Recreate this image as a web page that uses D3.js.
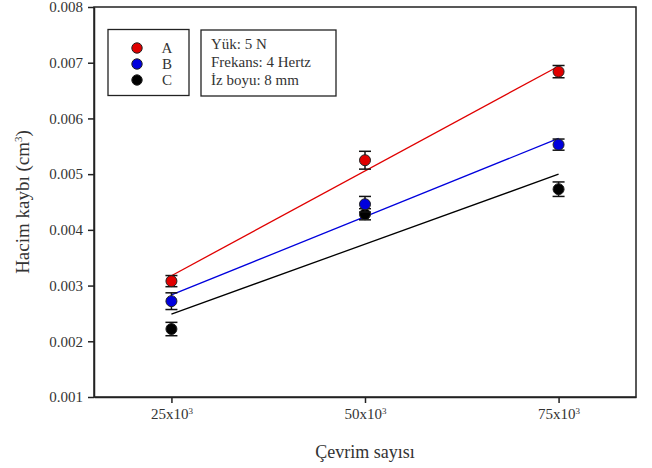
<!DOCTYPE html>
<html lang="tr">
<head>
<meta charset="UTF-8">
<title>hacim-kaybi</title>
<script src="https://cdn.jsdelivr.net/npm/d3@7"></script>
<style>
    body { margin: 0; background: #fff; }
    svg, svg text { font-family: "Liberation Serif", "Times New Roman", Tinos, "DejaVu Serif", serif; }
    svg { display: block; }
</style>
</head>
<body>
<svg id="chart" width="652" height="468"></svg>
<script>
// veriler
var cycles = [25, 50, 75];                 // x10^3
var seriesNames = ["A", "B", "C"];
var seriesColors = ["#e00000", "#0000dd", "#000000"];
var valuesA = [0.00308, 0.00525, 0.00684];
var valuesB = [0.00272, 0.00446, 0.00553];
var valuesC = [0.00222, 0.00428, 0.00473];
var errorsA = [0.00010, 0.00016, 0.00011];
var errorsB = [0.00015, 0.00014, 0.00010];
var errorsC = [0.00012, 0.00010, 0.00013];
var yTicks = [0.001, 0.002, 0.003, 0.004, 0.005, 0.006, 0.007, 0.008];
var infoLines = ["Yük: 5 N", "Frekans: 4 Hertz", "İz boyu: 8 mm"];

var series = [
    { name: seriesNames[0], color: seriesColors[0], values: valuesA, errors: errorsA },
    { name: seriesNames[1], color: seriesColors[1], values: valuesB, errors: errorsB },
    { name: seriesNames[2], color: seriesColors[2], values: valuesC, errors: errorsC }
];

var margin = { top: 7, right: 16, bottom: 71, left: 94 };
var width = 652 - margin.left - margin.right;
var height = 468 - margin.top - margin.bottom;

var x = d3.scaleLinear().domain([15, 85]).range([0, width]);
var y = d3.scaleLinear().domain([0.001, 0.008]).range([height, 0]);

var svg = d3.select("#chart");
var g = svg.append("g").attr("transform", "translate(" + margin.left + "," + margin.top + ")");

// cerceve
g.append("rect")
    .attr("width", width).attr("height", height)
    .attr("fill", "none").attr("stroke", "#222").attr("stroke-width", 1.5);

// y ekseni
var yAxis = g.append("g")
    .call(d3.axisLeft(y).tickValues(yTicks).tickFormat(d3.format(".3f")).tickSize(6).tickSizeOuter(0))
    .attr("font-family", null).attr("font-size", null);
yAxis.select(".domain").attr("stroke", "#222").attr("stroke-width", 1.5);
yAxis.selectAll(".tick line").attr("stroke", "#222").attr("stroke-width", 1.5);
yAxis.selectAll(".tick text")
    .attr("x", -11).attr("font-size", 15).attr("fill", "#333");

// x ekseni
var xAxis = g.append("g")
    .attr("transform", "translate(0," + height + ")")
    .call(d3.axisBottom(x).tickValues(cycles).tickFormat("").tickSize(6).tickSizeOuter(0))
    .attr("font-family", null).attr("font-size", null);
xAxis.select(".domain").attr("stroke", "#222").attr("stroke-width", 1.5);
xAxis.selectAll(".tick line").attr("stroke", "#222").attr("stroke-width", 1.5);
var xt = xAxis.selectAll(".tick").append("text")
    .attr("y", 22)
    .attr("text-anchor", "middle").attr("font-size", 15).attr("fill", "#333");
xt.append("tspan").text(function (d) { return d + "x10"; });
xt.append("tspan").attr("font-size", 9).attr("dy", -5).text("3");

// regresyon cizgileri (en kucuk kareler)
function fit(xs, ys) {
    var mx = d3.mean(xs), my = d3.mean(ys);
    var num = d3.sum(xs, function (v, i) { return (v - mx) * (ys[i] - my); });
    var den = d3.sum(xs, function (v) { return (v - mx) * (v - mx); });
    var b = num / den;
    return function (v) { return my + b * (v - mx); };
}

series.forEach(function (s) {
    var f = fit(cycles, s.values);
    var x0 = d3.min(cycles), x1 = d3.max(cycles);
    g.append("line")
        .attr("x1", x(x0)).attr("y1", y(f(x0)))
        .attr("x2", x(x1)).attr("y2", y(f(x1)))
        .attr("stroke", s.color).attr("stroke-width", 1.3);
});

// hata cubuklari ve noktalar (C en altta)
series.slice().reverse().forEach(function (s) {
    var pts = cycles.map(function (c, i) { return { c: c, v: s.values[i], e: s.errors[i] }; });
    var eg = g.append("g").selectAll("g").data(pts).enter().append("g");
    eg.append("line")
        .attr("x1", function (d) { return x(d.c); }).attr("x2", function (d) { return x(d.c); })
        .attr("y1", function (d) { return y(d.v - d.e); }).attr("y2", function (d) { return y(d.v + d.e); })
        .attr("stroke", "#111").attr("stroke-width", 1.5);
    [-1, 1].forEach(function (sg) {
        eg.append("line")
            .attr("x1", function (d) { return x(d.c) - 6; }).attr("x2", function (d) { return x(d.c) + 6; })
            .attr("y1", function (d) { return y(d.v + sg * d.e); }).attr("y2", function (d) { return y(d.v + sg * d.e); })
            .attr("stroke", "#111").attr("stroke-width", 1.5);
    });
    eg.append("circle")
        .attr("cx", function (d) { return x(d.c); }).attr("cy", function (d) { return y(d.v); })
        .attr("r", 5.5).attr("fill", s.color).attr("stroke", "#222").attr("stroke-width", 1);
});

// lejant
svg.append("rect").attr("x", 108).attr("y", 29.5).attr("width", 81).attr("height", 66)
    .attr("fill", "#fff").attr("stroke", "#222").attr("stroke-width", 1.3);
var leg = svg.append("g").selectAll("g").data(series).enter().append("g")
    .attr("transform", function (d, i) { return "translate(137," + (48 + i * 16) + ")"; });
leg.append("circle").attr("r", 5.2).attr("fill", function (d) { return d.color; })
    .attr("stroke", "#222").attr("stroke-width", 1);
leg.append("text").attr("x", 30).attr("y", 5).attr("text-anchor", "middle")
    .attr("font-size", 15).attr("fill", "#333").text(function (d) { return d.name; });

// bilgi kutusu
svg.append("rect").attr("x", 201).attr("y", 30).attr("width", 135).attr("height", 66)
    .attr("fill", "#fff").attr("stroke", "#222").attr("stroke-width", 1.3);
svg.append("g").selectAll("text").data(infoLines).enter().append("text")
    .attr("x", 211).attr("y", function (d, i) { return 49 + i * 18; })
    .attr("font-size", 15).attr("fill", "#333").text(function (d) { return d; });

// eksen basliklari
var yt = svg.append("text")
    .attr("transform", "translate(29," + (margin.top + height / 2) + ") rotate(-90)")
    .attr("text-anchor", "middle").attr("font-size", 19).attr("fill", "#333");
yt.append("tspan").text("Hacim kaybı (cm");
yt.append("tspan").attr("font-size", 11).attr("dy", -7).text("3");
yt.append("tspan").attr("dy", 7).text(")");

svg.append("text")
    .attr("x", margin.left + width / 2).attr("y", 458)
    .attr("text-anchor", "middle").attr("font-size", 18).attr("fill", "#333")
    .text("Çevrim sayısı");
</script>
</body>
</html>
